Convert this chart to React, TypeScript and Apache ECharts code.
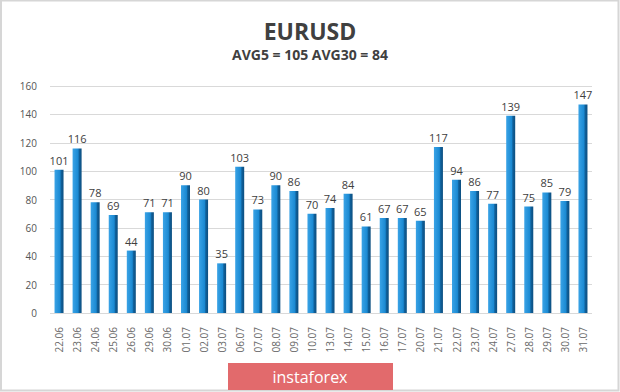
import React, { useEffect, useRef } from "react";
import * as echarts from "echarts";

const categories = ["22.06","23.06","24.06","25.06","26.06","29.06","30.06","01.07","02.07","03.07","06.07","07.07","08.07","09.07","10.07","13.07","14.07","15.07","16.07","17.07","20.07","21.07","22.07","23.07","24.07","27.07","28.07","29.07","30.07","31.07"];
const values = [101,116,78,69,44,71,71,90,80,35,103,73,90,86,70,74,84,61,67,67,65,117,94,86,77,139,75,85,79,147];
const titleText = "EURUSD";
const subtitleText = "AVG5 = 105 AVG30 = 84";
const logoText = "instaforex";

export default function App() {
  const ref = useRef<HTMLDivElement>(null);
  useEffect(() => {
    document.body.style.margin = "0";
    const chart = echarts.init(ref.current!, null, { renderer: "svg" });
    chart.setOption({
      animation: false,
      backgroundColor: "#ffffff",
      title: [
        {
          text: titleText,
          left: "center",
          top: 14,
          textStyle: { fontFamily: "Open Sans", fontWeight: "bold", fontSize: 23, color: "#404040" },
        },
        {
          text: subtitleText,
          left: "center",
          top: 42,
          textStyle: { fontFamily: "Open Sans", fontWeight: "bold", fontSize: 14, color: "#404040" },
        },
      ],
      grid: { left: 50, right: 28, top: 86, bottom: 79 },
      xAxis: {
        type: "category",
        data: categories,
        axisLine: { show: false },
        axisTick: { show: false },
        axisLabel: { rotate: 90, fontSize: 10, color: "#6a6a6a", fontFamily: "Open Sans", margin: 14, interval: 0 },
      },
      yAxis: {
        type: "value",
        min: 0,
        max: 160,
        interval: 20,
        axisLine: { show: false },
        axisTick: { show: false },
        axisLabel: { fontSize: 10, color: "#555", fontFamily: "Open Sans", margin: 13 },
        splitLine: { lineStyle: { color: "#d9d9d9", width: 1 } },
      },
      series: [
        {
          type: "bar",
          data: values,
          barWidth: 9,
          itemStyle: {
            color: new echarts.graphic.LinearGradient(0, 0, 1, 0, [
              { offset: 0, color: "#3aa3e6" },
              { offset: 0.6, color: "#1b8ad3" },
              { offset: 0.75, color: "#0f5f99" },
              { offset: 1, color: "#0d4f80" },
            ]),
          },
          label: { show: true, position: "top", fontSize: 11, color: "#404040", fontFamily: "Open Sans", distance: 4 },
        },
      ],
      graphic: [
        { type: "rect", shape: { x: 1, y: 0.5, width: 617.5, height: 390 }, style: { fill: "none", stroke: "#d6d6d6", lineWidth: 2 }, silent: true },
        { type: "rect", shape: { x: 228, y: 363, width: 165, height: 27 }, style: { fill: "#e26a6c" } },
        { type: "text", x: 310, y: 377, style: { text: logoText, fill: "#ffffff", fontSize: 16, fontFamily: "Open Sans", align: "center", verticalAlign: "middle" } },
      ],
    });
    return () => chart.dispose();
  }, []);
  return <div ref={ref} style={{ position: "fixed", left: 0, top: 0, width: 620, height: 392 }} />;
}
